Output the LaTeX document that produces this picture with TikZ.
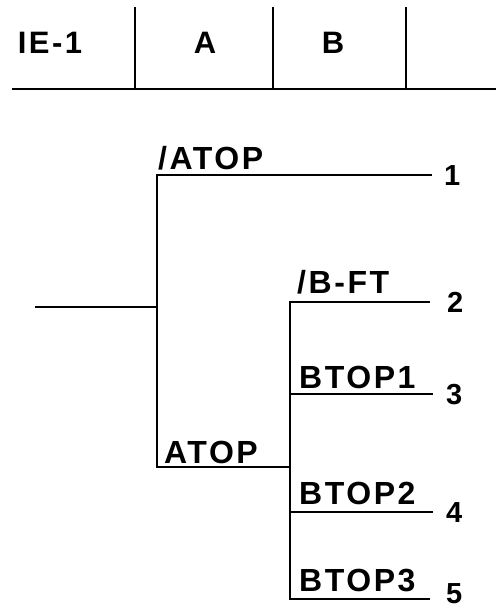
\documentclass[tikz,border=0pt]{standalone}
\usepackage{fontspec}
\setmainfont{Liberation Sans}[LetterSpace=8]
\begin{document}
\begin{tikzpicture}[x=1pt,y=-1pt,
  ln/.style={line width=2pt},
  lbl/.style={inner sep=0pt,anchor=base west,font=\fontsize{32}{32}\selectfont\bfseries},
  num/.style={inner sep=0pt,anchor=west,font=\fontsize{29}{29}\selectfont\bfseries},
  hdr/.style={inner sep=0pt,anchor=base,font=\fontsize{31}{31}\selectfont\bfseries}]
\useasboundingbox (0,0) rectangle (496,609);
% header
\coordinate (hl) at (12,89);
\coordinate (hr) at (496,89);
\coordinate (v1t) at (135,7); \coordinate (v1b) at (135,89);
\coordinate (v2t) at (273,7); \coordinate (v2b) at (273,89);
\coordinate (v3t) at (406,7); \coordinate (v3b) at (406,89);
\draw[ln] (hl) -- (hr);
\draw[ln] (v1t) -- (v1b);
\draw[ln] (v2t) -- (v2b);
\draw[ln] (v3t) -- (v3b);
\node[hdr] (hie) at (50,54) {IE-1};
\node[hdr] (ha) at (205,54) {A};
\node[hdr] (hb) at (333,54) {B};
% tree
\coordinate (root) at (35,307);
\coordinate (j1) at (157,307);
\coordinate (a1) at (157,175);
\coordinate (a1e) at (432,175);
\coordinate (a2) at (157,467);
\coordinate (j2) at (290,467);
\coordinate (b1) at (290,302);
\coordinate (b1e) at (430,302);
\coordinate (b2) at (290,394);
\coordinate (b2e) at (433,394);
\coordinate (b3) at (290,512);
\coordinate (b3e) at (433,512);
\coordinate (b4) at (290,599);
\coordinate (b4e) at (430,599);
\draw[ln] (root) -- (j1);
\draw[ln] (a1e) -- (a1) -- (a2) -- (j2);
\draw[ln] (b1e) -- (b1) -- (b4) -- (b4e);
\draw[ln] (b2) -- (b2e);
\draw[ln] (b3) -- (b3e);
\node[lbl] (lnatop) at (158,170) {/ATOP};
\node[lbl] (latop) at (164,463) {ATOP};
\node[lbl] (lnbft) at (297,293) {/B-FT};
\node[lbl] (lbtop1) at (299,388) {BTOP1};
\node[lbl] (lbtop2) at (299,504) {BTOP2};
\node[lbl] (lbtop3) at (299,591) {BTOP3};
\node[num] (n1) at (444,176) {1};
\node[num] (n2) at (447,302) {2};
\node[num] (n3) at (446,395) {3};
\node[num] (n4) at (446,513) {4};
\node[num] (n5) at (446,594) {5};
\end{tikzpicture}
\end{document}
